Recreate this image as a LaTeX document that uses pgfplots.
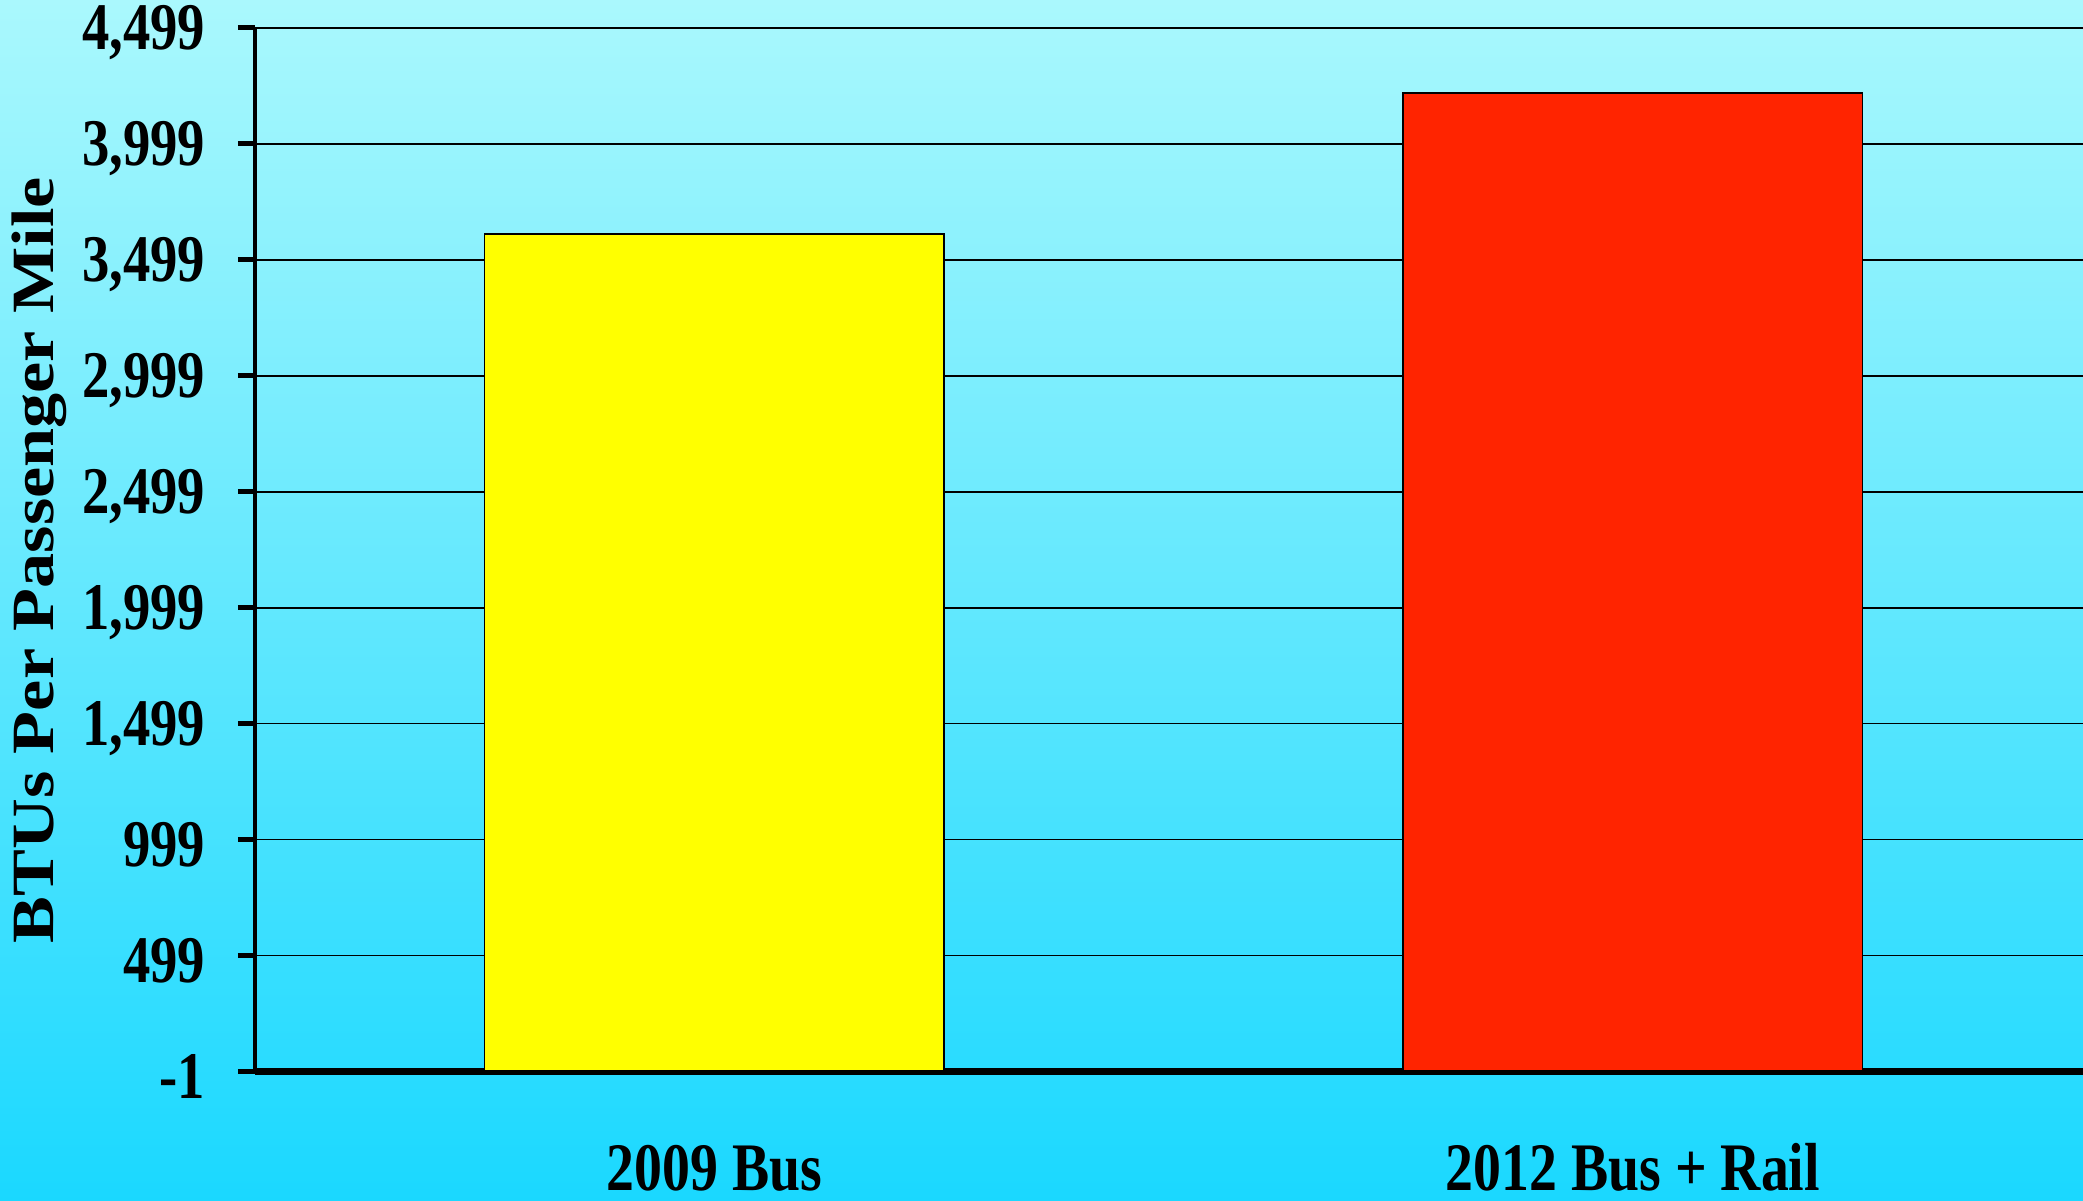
\documentclass[border=0pt]{standalone}
\usepackage{pgfplots}
\pgfplotsset{compat=1.18}
\usepackage{fontspec}
\setmainfont{Liberation Serif}
\newfontfamily\tickfont{Liberation Serif}[FakeStretch=0.82]
\newfontfamily\xfont{Liberation Serif}[FakeStretch=0.82]
\newfontfamily\labfont{Liberation Serif}[FakeStretch=1.17]
\definecolor{bgtop}{RGB}{170,248,253}
\definecolor{bgbot}{RGB}{26,216,255}
\definecolor{baryellow}{RGB}{255,255,0}
\definecolor{barred}{RGB}{255,36,0}
\begin{document}
\begin{tikzpicture}
\fill[top color=bgtop, bottom color=bgbot, draw=none] (-76.5pt,-38.85pt) rectangle (548.4pt,321.45pt);
\useasboundingbox (-76.5pt,-38.85pt) rectangle (548.4pt,321.45pt);
\begin{axis}[
  at={(0pt,0pt)}, anchor=south west,
  scale only axis, width=548.4pt, height=313.05pt,
  xmin=-0.5, xmax=1.49, ymin=-1, ymax=4499,
  ybar, bar width=0.5, bar shift=0pt,
  xtick={0,1}, xticklabels={2009 Bus, 2012 Bus + Rail},
  ytick={-1,499,999,1499,1999,2499,2999,3499,3999,4499},
  yticklabels={-1,499,999,{1,499},{1,999},{2,499},{2,999},{3,499},{3,999},{4,499}},
  axis x line*=bottom, axis y line*=left,
  axis line style={-},
  x axis line style={line width=2pt},
  y axis line style={line width=1pt},
  ymajorgrids, grid style={black, line width=0.5pt},
  tick align=outside, major tick length=5.1pt,
  xtick style={draw=none},
  ytick style={black, line width=1.5pt},
  yticklabel style={font=\tickfont\bfseries\fontsize{20}{20}\selectfont, anchor=east, inner sep=0pt, xshift=-9.6pt, yshift=-1.5pt},
  xticklabel style={font=\xfont\bfseries\fontsize{20.4}{20.4}\selectfont, anchor=base, yshift=-30.5pt},
  ylabel={BTUs Per Passenger Mile},
  ylabel style={font=\labfont\bfseries\fontsize{18}{18}\selectfont, at={(axis description cs:-0.118,0.49)}, anchor=center},
]
\addplot[fill=baryellow, draw=black, line width=0.45pt] coordinates {(0,3610)};
\addplot[fill=barred, draw=black, line width=0.45pt] coordinates {(1,4218)};
\end{axis}
\end{tikzpicture}
\end{document}
